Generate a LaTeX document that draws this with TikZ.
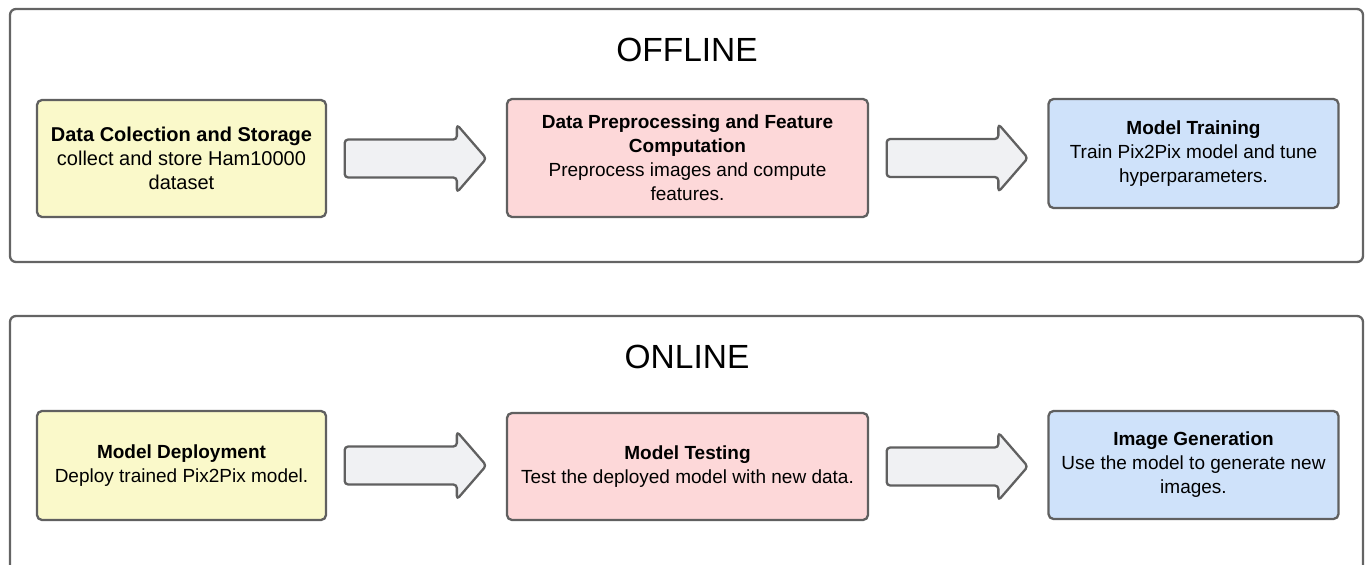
\documentclass[tikz,border=0pt]{standalone}
\usepackage{fontspec}
\setmainfont{Liberation Sans}
\usetikzlibrary{calc}

\definecolor{edgegray}{RGB}{96,96,96}
\definecolor{frameline}{RGB}{100,100,100}
\definecolor{stageyellow}{RGB}{250,249,202}
\definecolor{stagepink}{RGB}{253,216,217}
\definecolor{stageblue}{RGB}{207,226,250}
\definecolor{arrowfill}{RGB}{240,241,243}

\tikzset{
  panel/.style={draw=frameline, line width=2.3pt, rounded corners=6pt},
  stagebox/.style={draw=edgegray, line width=2.3pt, rounded corners=5pt,
    align=center, inner sep=0pt, font=\fontsize{19}{24}\selectfont},
  yellowstage/.style={stagebox, fill=stageyellow},
  pinkstage/.style={stagebox, fill=stagepink},
  bluestage/.style={stagebox, fill=stageblue},
  flowarrow/.style={draw=edgegray, fill=arrowfill, line width=2.3pt,
    rounded corners=3.5pt, line join=round},
  paneltitle/.style={font=\fontsize{33.5}{36}\selectfont, inner sep=0pt, anchor=base}
}

% block arrow from the right side of one stage to the left side of the next
\newcommand\blockarrow[2]{%
  \draw[flowarrow] let \p1=(#1.east), \p2=(#2.west) in
    (\x1+17.5pt,\y1+19pt) -- (\x2-49pt,\y1+19pt) -- (\x2-49pt,\y1+34pt)
    -- (\x2-19.5pt,\y1) -- (\x2-49pt,\y1-34pt) -- (\x2-49pt,\y1-19pt)
    -- (\x1+17.5pt,\y1-19pt) -- cycle;}

\begin{document}
\begin{tikzpicture}[x=1pt,y=-1pt]
\useasboundingbox (0,0) rectangle (1369,565);

% offline panel
\node[panel, minimum width=1353pt, minimum height=253pt, inner sep=0pt]
  (offline) at (686.5,135.5) {};
\node[paneltitle] (offtitle) at (687,61) {OFFLINE};

% online panel, running past the lower edge
\draw[panel] (10,580) -- (10,316) -- (1363,316) -- (1363,580);
\coordinate (onlinepanel) at (686.5,316);
\node[paneltitle] (ontitle) at (687,368) {ONLINE};

% offline stages
\node[yellowstage, minimum width=289pt, minimum height=117pt,
  font=\fontsize{20}{24}\selectfont] (collect) at (181.5,158.5)
  {\textbf{Data Colection and Storage}\\collect and store Ham10000\\dataset};
\node[pinkstage, minimum width=361pt, minimum height=118pt] (prep) at (687.5,158)
  {\textbf{Data Preprocessing and Feature}\\\textbf{Computation}\\Preprocess images and compute\\features.};
\node[bluestage, minimum width=290pt, minimum height=109pt] (train) at (1193.5,153.5)
  {\textbf{Model Training}\\Train Pix2Pix model and tune\\hyperparameters.};

% online stages
\node[yellowstage, minimum width=289pt, minimum height=109pt] (deploy) at (181.5,465.5)
  {\textbf{Model Deployment}\\Deploy trained Pix2Pix model.};
\node[pinkstage, minimum width=361pt, minimum height=107pt] (test) at (687.5,466.5)
  {\textbf{Model Testing}\\Test the deployed model with new data.};
\node[bluestage, minimum width=290pt, minimum height=108pt] (generate) at (1193.5,465)
  {\textbf{Image Generation}\\Use the model to generate new\\images.};

% flow arrows
\blockarrow{collect}{prep}
\blockarrow{prep}{train}
\blockarrow{deploy}{test}
\blockarrow{test}{generate}
\end{tikzpicture}
\end{document}
